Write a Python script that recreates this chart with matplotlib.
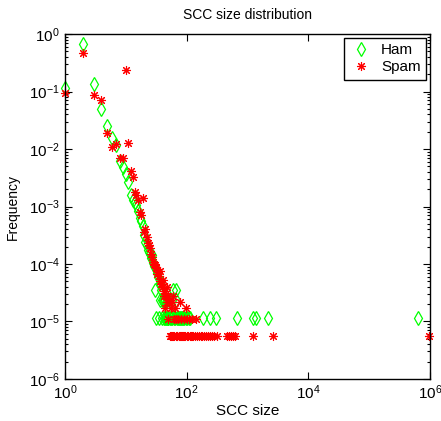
import matplotlib
matplotlib.use("Agg")
import matplotlib.pyplot as plt
from matplotlib.ticker import LogLocator, NullLocator, NullFormatter

plt.rcParams['font.family'] = ['Liberation Sans', 'DejaVu Sans']
plt.rcParams['mathtext.default'] = 'regular'

# Ham: SCC size -> frequency
ham_size = [1, 2, 3, 4, 5, 6, 7, 8, 9, 10, 11, 12, 13, 14, 15, 16, 17, 18, 19, 20,
            21, 22, 23, 24, 25, 26, 27, 28, 29, 30, 31, 32, 33, 34, 35, 36, 37, 38, 39, 40,
            41, 42, 43, 44, 45, 46, 47, 48, 49, 50, 52, 53, 55, 57, 58, 60, 62, 64, 66, 68,
            70, 73, 75, 78, 80, 84, 88, 92, 97, 103, 108, 114, 187, 240, 305, 666,
            1250, 1370, 2190, 630000]
ham_freq = [0.115, 0.66, 0.133, 0.049, 0.0254, 0.0154, 0.0117, 0.0063, 0.0048, 0.0037,
            0.0027, 0.0016, 0.0013, 0.0012, 0.00105, 0.00083, 0.00063, 0.00056, 0.00045, 0.00032,
            0.00024, 0.00021, 0.000175, 0.000164, 0.000152, 0.000129, 0.000144, 0.000105, 9.4e-5, 3.51e-5,
            8.2e-5, 1.17e-5, 7.0e-5, 5.85e-5, 1.17e-5, 4.68e-5, 2.34e-5, 3.51e-5, 2.34e-5, 1.17e-5,
            2.34e-5, 1.17e-5, 2.34e-5, 1.17e-5, 2.34e-5, 1.17e-5, 1.17e-5, 2.34e-5, 1.17e-5, 1.17e-5,
            2.34e-5, 1.17e-5, 1.17e-5, 1.17e-5, 2.34e-5, 3.51e-5, 1.17e-5, 1.17e-5, 2.34e-5, 3.51e-5,
            1.17e-5, 1.17e-5, 1.17e-5, 1.17e-5, 1.17e-5, 1.17e-5, 1.17e-5, 1.17e-5, 1.17e-5, 1.17e-5,
            1.17e-5, 1.17e-5, 1.17e-5, 1.17e-5, 1.17e-5, 1.17e-5,
            1.17e-5, 1.17e-5, 1.17e-5, 1.17e-5]

# Spam: SCC size -> frequency
spam_size = [1, 2, 3, 4, 5, 6, 7, 8, 9, 10, 11, 12, 13, 14, 15, 16, 17, 18, 19, 20,
             21, 22, 23, 24, 25, 26, 27, 28, 29, 30, 31, 32, 33, 34, 35, 36, 37, 38, 39, 40,
             41, 42, 43, 44, 45, 46, 47, 48, 49, 50, 52, 55, 57, 60, 62, 64, 66, 72, 78, 82,
             90, 98, 102, 110, 121, 143,
             53, 56, 58, 61, 63, 67, 69, 71, 74, 77, 80, 83, 87, 92, 96, 100, 105, 112, 118,
             125, 130, 137, 150, 160, 170, 180, 195, 210, 225, 240, 260, 280, 320, 460, 500,
             540, 580, 630, 1250, 2600, 970000]
spam_freq = [0.093, 0.47, 0.087, 0.070, 0.0188, 0.0107, 0.012, 0.0071, 0.0069, 0.24,
             0.0125, 0.0041, 0.0033, 0.0018, 0.0016, 0.0013, 0.00081, 0.00071, 0.0014, 0.00036,
             0.00040, 0.00030, 0.00023, 0.00021, 0.00019, 0.00015, 0.00013, 0.00011, 0.0001, 9.5e-5,
             8.4e-5, 8.9e-5, 6.7e-5, 7.3e-5, 6.2e-5, 7.4e-5, 5.0e-5, 4.5e-5, 3.9e-5, 4.5e-5,
             5.3e-5, 3.4e-5, 2.8e-5, 1.68e-5, 3.4e-5, 2.8e-5, 3.9e-5, 2.2e-5, 2.8e-5, 1.12e-5,
             2.2e-5, 1.68e-5, 2.2e-5, 2.8e-5, 1.12e-5, 1.68e-5, 1.12e-5, 1.12e-5, 2.2e-5, 1.12e-5,
             1.12e-5, 1.68e-5, 1.12e-5, 1.12e-5, 1.12e-5, 1.12e-5,
             5.6e-6, 5.6e-6, 5.6e-6, 5.6e-6, 5.6e-6, 5.6e-6, 5.6e-6, 5.6e-6, 5.6e-6, 5.6e-6,
             5.6e-6, 5.6e-6, 5.6e-6, 5.6e-6, 5.6e-6, 5.6e-6, 5.6e-6, 5.6e-6, 5.6e-6,
             5.6e-6, 5.6e-6, 5.6e-6, 5.6e-6, 5.6e-6, 5.6e-6, 5.6e-6, 5.6e-6, 5.6e-6, 5.6e-6,
             5.6e-6, 5.6e-6, 5.6e-6, 5.6e-6, 5.6e-6, 5.6e-6,
             5.6e-6, 5.6e-6, 5.6e-6, 5.6e-6, 5.6e-6, 5.6e-6]

fig = plt.figure(figsize=(4.41, 4.21), dpi=100)
ax = fig.add_axes([0.147, 0.100, 0.828, 0.819])

ax.plot(ham_size, ham_freq, linestyle='none', marker='d', markersize=7.5,
        markerfacecolor='none', markeredgecolor=(0, 1, 0), markeredgewidth=0.9,
        label='Ham', clip_on=False)
ax.plot(spam_size, spam_freq, linestyle='none', marker=(8, 2, 0), markersize=6.5,
        markeredgecolor=(1, 0, 0), markeredgewidth=0.8, color=(1, 0, 0),
        label='Spam', clip_on=False)

ax.set_xscale('log')
ax.set_yscale('log')
ax.set_xlim(1, 1e6)
ax.set_ylim(1e-6, 1)
ax.set_xticks([1, 1e2, 1e4, 1e6])
ax.xaxis.set_minor_locator(NullLocator())
ax.set_yticks([1e-6, 1e-5, 1e-4, 1e-3, 1e-2, 1e-1, 1])
ax.yaxis.set_minor_locator(LogLocator(base=10, subs=range(2, 10)))
ax.yaxis.set_minor_formatter(NullFormatter())
ax.tick_params(which='both', direction='in', top=True, right=True,
               labelsize=11, width=0.8, colors='black')
ax.tick_params(which='major', length=5)
ax.tick_params(which='minor', length=2.5)
for s in ax.spines.values():
    s.set_linewidth(1.0)

ax.set_title('SCC size distribution', fontsize=10, pad=11)
ax.set_xlabel('SCC size', fontsize=11, labelpad=1)
ax.set_ylabel('Frequency', fontsize=10, labelpad=7)

leg = ax.legend(loc='upper right', fancybox=False, framealpha=1, edgecolor='black',
                fontsize=11, handlelength=1.5, handletextpad=0.6, borderpad=0.35,
                labelspacing=0.2, borderaxespad=0.25)
leg.get_frame().set_linewidth(1.0)

plt.savefig('out.png', dpi=100)
